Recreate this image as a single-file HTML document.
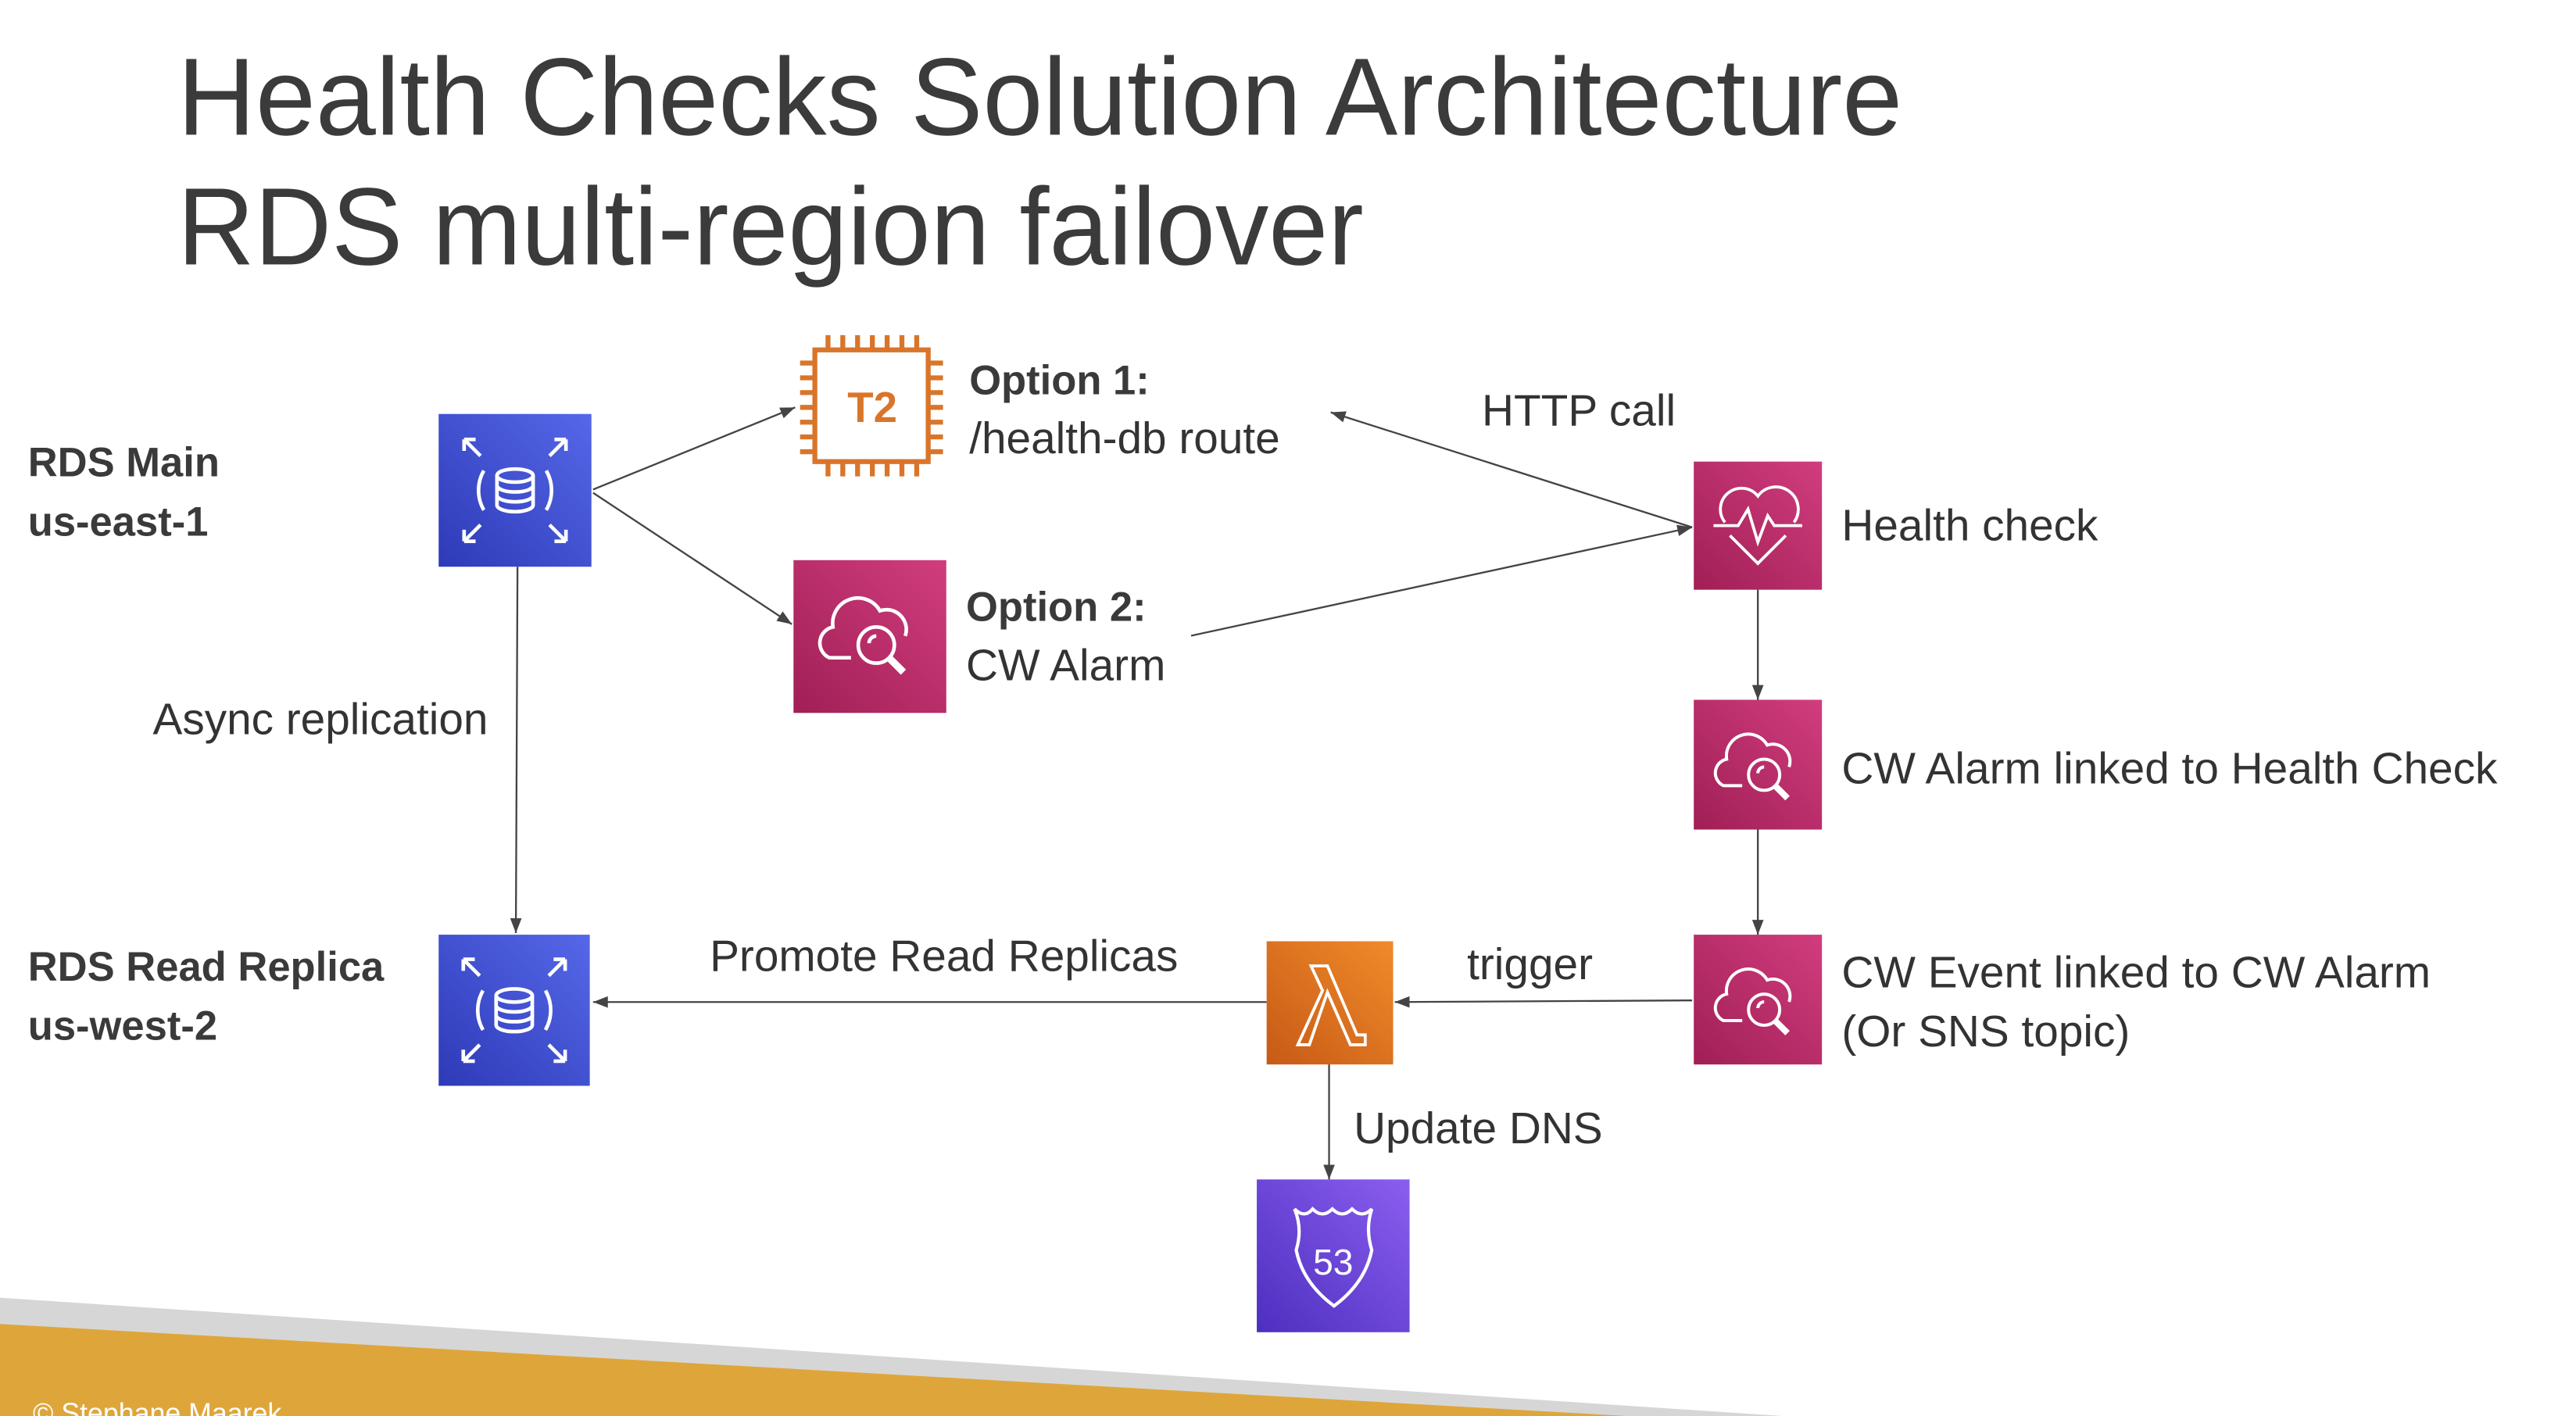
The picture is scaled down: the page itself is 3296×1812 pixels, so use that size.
<!DOCTYPE html>
<html><head><meta charset="utf-8"><style>
html,body{margin:0;padding:0;background:#fff}
svg{display:block}
text{font-family:"Liberation Sans",sans-serif;fill:#333}
.b{font-weight:bold;fill:#3a3a3a}
</style></head><body>
<svg width="3296" height="1812" viewBox="0 0 1568 862" preserveAspectRatio="none" xmlns="http://www.w3.org/2000/svg">
<defs>
<linearGradient id="blue" x1="0" y1="1" x2="1" y2="0"><stop offset="0" stop-color="#2e3ab8"/><stop offset="1" stop-color="#5568e8"/></linearGradient>
<linearGradient id="pink" x1="0" y1="1" x2="1" y2="0"><stop offset="0" stop-color="#a01f55"/><stop offset="1" stop-color="#d13d7e"/></linearGradient>
<linearGradient id="orng" x1="0" y1="1" x2="1" y2="0"><stop offset="0" stop-color="#c75a16"/><stop offset="1" stop-color="#f08a2a"/></linearGradient>
<linearGradient id="purp" x1="0" y1="1" x2="1" y2="0"><stop offset="0" stop-color="#4d2fbf"/><stop offset="1" stop-color="#8b5ef0"/></linearGradient>
<marker id="ar" markerWidth="10" markerHeight="10" refX="9" refY="5" orient="auto" markerUnits="userSpaceOnUse"><path d="M0,1.5 L9,5 L0,8.5 Z" fill="#444"/></marker>
<g id="rds" fill="none" stroke="#fff" stroke-width="2.2">
<ellipse cx="0" cy="-9" rx="11" ry="4"/><path d="M-11,-9 V9 A11,4 0 0 0 11,9 V-9"/><path d="M-11,-3 A11,4 0 0 0 11,-3 M-11,3 A11,4 0 0 0 11,3"/>
<path d="M-19,-12 A24,24 0 0 0 -19,12 M19,-12 A24,24 0 0 1 19,12"/>
<path d="M-31,-31 L-21,-21 M-31,-31 h7 M-31,-31 v7 M31,-31 L21,-21 M31,-31 h-7 M31,-31 v7 M-31,31 L-21,21 M-31,31 h7 M-31,31 v-7 M31,31 L21,21 M31,31 h-7 M31,31 v-7"/>
</g>
<g id="cw" fill="none" stroke="#fff" stroke-width="2">
<path d="M-10,14 H-22 A9,9 0 0 1 -20,-3 A14,14 0 0 1 6,-12 A11,11 0 0 1 20,2"/>
<circle cx="4" cy="7" r="10"/><path d="M0,6 A4,4 0 0 1 4,2"/><path d="M11,14 L19,22" stroke-width="4"/>
</g>
</defs>
<text x="108" y="82" font-size="67" textLength="1050" lengthAdjust="spacingAndGlyphs" style="fill:#3b3b3b">Health Checks Solution Architecture</text>
<text x="108" y="161" font-size="67" textLength="722" lengthAdjust="spacingAndGlyphs" style="fill:#3b3b3b">RDS multi-region failover</text>

<!-- footer -->
<polygon points="0,790 1085,862 0,862" fill="#d6d6d6"/>
<polygon points="0,806 990,862 0,862" fill="#dea63a"/>
<text x="20" y="866" font-size="17" style="fill:#fff">© Stephane Maarek</text>

<!-- connectors -->
<g stroke="#444" stroke-width="1.1" fill="none">
<line x1="361" y1="298" x2="484" y2="248" marker-end="url(#ar)"/>
<line x1="361" y1="300" x2="482" y2="380" marker-end="url(#ar)"/>
<line x1="725" y1="387" x2="1030" y2="321" marker-end="url(#ar)"/>
<line x1="1030" y1="321" x2="810" y2="251" marker-end="url(#ar)"/>
<line x1="1070" y1="359" x2="1070" y2="426" marker-end="url(#ar)"/>
<line x1="1070" y1="505" x2="1070" y2="569" marker-end="url(#ar)"/>
<line x1="1030" y1="609" x2="849" y2="610" marker-end="url(#ar)"/>
<line x1="771" y1="610" x2="361" y2="610" marker-end="url(#ar)"/>
<line x1="809" y1="648" x2="809" y2="718" marker-end="url(#ar)"/>
<line x1="315" y1="345" x2="314" y2="568" marker-end="url(#ar)"/>
</g>

<rect x="267" y="252" width="93" height="93" fill="url(#blue)"/>
<use href="#rds" x="313.5" y="298.5"/>
<rect x="267" y="569" width="92" height="92" fill="url(#blue)"/>
<use href="#rds" x="313" y="615"/>

<g stroke="#d9752a" stroke-width="3" fill="none">
<rect x="496" y="213" width="69" height="68" fill="#fff"/>
<path d="M504,213 v-9 M513,213 v-9 M522,213 v-9 M531,213 v-9 M540,213 v-9 M549,213 v-9 M558,213 v-9"/>
<path d="M504,281 v9 M513,281 v9 M522,281 v9 M531,281 v9 M540,281 v9 M549,281 v9 M558,281 v9"/>
<path d="M496,221 h-9 M496,230 h-9 M496,239 h-9 M496,248 h-9 M496,257 h-9 M496,266 h-9 M496,275 h-9"/>
<path d="M565,221 h9 M565,230 h9 M565,239 h9 M565,248 h9 M565,257 h9 M565,266 h9 M565,275 h9"/>
</g>
<text x="531" y="257" font-size="26" text-anchor="middle" font-weight="bold" style="fill:#d9752a">T2</text>

<rect x="483" y="341" width="93" height="93" fill="url(#pink)"/>
<use href="#cw" x="529" y="385" transform="translate(529,385) scale(1.1) translate(-529,-385)"/>

<rect x="1031" y="281" width="78" height="78" fill="url(#pink)"/>
<g fill="none" stroke="#fff" stroke-width="1.8">
<path d="M1050,318 A12,12 0 0 1 1070,302 A12,12 0 0 1 1092,318"/>
<path d="M1043,320 H1058 L1064,310 L1070,330 L1076,314 L1080,320 H1097"/>
<path d="M1053,326 L1070,343 L1087,326"/>
</g>
<rect x="1031" y="426" width="78" height="79" fill="url(#pink)"/>
<use href="#cw" x="1070" y="465" transform="translate(1070,465) scale(0.95) translate(-1070,-465)"/>
<rect x="1031" y="569" width="78" height="79" fill="url(#pink)"/>
<use href="#cw" x="1070" y="608" transform="translate(1070,608) scale(0.95) translate(-1070,-608)"/>

<rect x="771" y="573" width="77" height="75" fill="url(#orng)"/>
<path d="M790,636 L805,603 L798,588 H808 L826,630 H831 V636 H822 L808,604 L797,636 Z" fill="none" stroke="#fff" stroke-width="1.8"/>

<rect x="765" y="718" width="93" height="93" fill="url(#purp)"/>
<path d="M788,736 q6,6 11,0 q6,6 12,0 q6,6 12,0 q6,6 12,0 q-4,12 0,25 q-4,20 -23,34 q-19,-14 -23,-34 q4,-13 -1,-25 Z" fill="none" stroke="#fff" stroke-width="2"/>
<text x="811.5" y="776" font-size="22" text-anchor="middle" style="fill:#fff">53</text>

<g font-size="27">
<text class="b" x="17" y="290" font-size="25">RDS Main</text>
<text class="b" x="17" y="326" font-size="25">us-east-1</text>
<text class="b" x="590" y="240" font-size="25">Option 1:</text>
<text x="590" y="276">/health-db route</text>
<text x="902" y="259">HTTP call</text>
<text x="1121" y="329">Health check</text>
<text class="b" x="588" y="378" font-size="25">Option 2:</text>
<text x="588" y="414">CW Alarm</text>
<text x="93" y="447">Async replication</text>
<text x="1121" y="477">CW Alarm linked to Health Check</text>
<text class="b" x="17" y="597" font-size="25">RDS Read Replica</text>
<text class="b" x="17" y="633" font-size="25">us-west-2</text>
<text x="432" y="591">Promote Read Replicas</text>
<text x="893" y="596">trigger</text>
<text x="1121" y="601">CW Event linked to CW Alarm</text>
<text x="1121" y="637">(Or SNS topic)</text>
<text x="824" y="696">Update DNS</text>
</g>
</svg>
</body></html>
